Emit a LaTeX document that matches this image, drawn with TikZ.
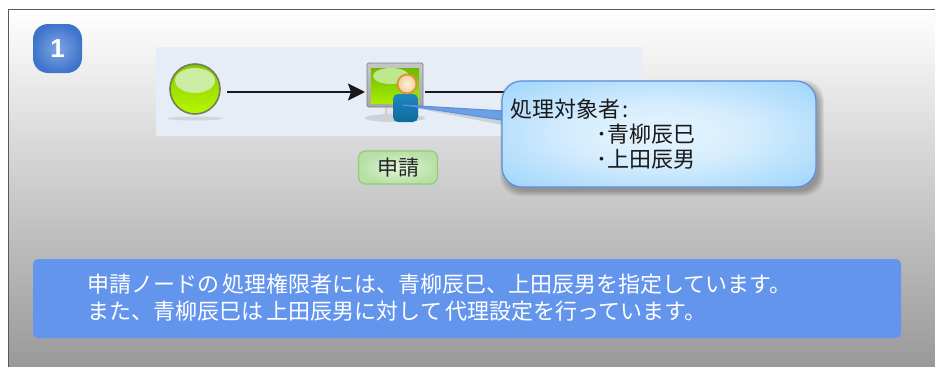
\documentclass[tikz,border=0pt]{standalone}
\usepackage{fontspec}
\setmainfont{Noto Sans CJK JP}
\newfontfamily\latinbold{Liberation Sans}[Scale=1]
\usetikzlibrary{arrows.meta,shapes.geometric}
\definecolor{lanefill}{HTML}{E6EDF7}
\definecolor{panelblue}{HTML}{6495ED}
\definecolor{calloutedge}{HTML}{5B8FDC}
\definecolor{calloutouter}{HTML}{97D2FB}
\definecolor{calloutinner}{HTML}{E6F4FE}
\definecolor{labelgreen}{HTML}{8FCB78}
\definecolor{labelin}{HTML}{E4F4DC}
\definecolor{labelout}{HTML}{B6E0A4}
\definecolor{badgein}{HTML}{7FA6E2}
\definecolor{badgeout}{HTML}{3F74CC}
\definecolor{balltop}{HTML}{86C800}
\definecolor{ballbot}{HTML}{B8F800}
\definecolor{ballhi}{HTML}{CBEDA2}
\definecolor{ballrim}{HTML}{6F7F58}
\definecolor{screentop}{HTML}{6FB800}
\definecolor{screenbot}{HTML}{A6EE00}
\definecolor{screenhi}{HTML}{BFE88C}
\definecolor{persontop}{HTML}{1C88C0}
\definecolor{personbot}{HTML}{0F6A9C}
\definecolor{headrim}{HTML}{D9933A}
\definecolor{headin}{HTML}{FFF4D8}
\pgfdeclareradialshading{calloutshade}{\pgfpoint{0bp}{0bp}}{
  color(0bp)=(calloutinner); color(14bp)=(calloutinner!80!calloutouter);
  color(38bp)=(calloutouter); color(50bp)=(calloutouter)}
\tikzset{
  flow/.style={line width=2pt,black!90},
  holder/.style={inner sep=0pt,outer sep=2pt},
  calloutbox/.style={rounded corners=20pt,draw=calloutedge,line width=1.2pt,shading=calloutshade,
    minimum width=314pt,minimum height=106pt,inner sep=0pt},
  panel/.style={rounded corners=5pt,fill=panelblue,minimum width=868pt,minimum height=79pt,inner sep=0pt},
  steplabel/.style={rounded corners=7pt,draw=labelgreen,line width=1.2pt,inner color=labelin,
    outer color=labelout,minimum width=79pt,minimum height=33pt,inner sep=0pt,text=black!85},
  badge/.style={rounded corners=15pt,minimum size=49pt,inner sep=0pt,inner color=badgein,
    outer color=badgeout,text=white}
}
\begin{document}
\begin{tikzpicture}[x=1pt,y=-1pt]
\useasboundingbox (0,0) rectangle (935,367);
\fill[white] (0,0) rectangle (935,367);
% frame and background
\shade[top color=white,bottom color=black!40] (8.5,9.5) rectangle (935,367);
\draw[black!65,line width=1.2pt] (8.5,367) -- (8.5,9.5) -- (935,9.5);
% lane
\node[fill=lanefill,minimum width=486pt,minimum height=89pt,inner sep=0pt] (lane) at (399,91.5) {};
% badge
\node[badge,font=\latinbold\bfseries\fontsize{26}{26}\selectfont] (badge) at (57.5,48.5) {1};
% invisible holders for the icons
\node[holder,minimum width=60pt,minimum height=56pt] (start) at (195,92) {};
\node[holder,minimum width=56pt,minimum height=56pt] (task) at (395,92) {};
\coordinate (next) at (560,92);
% connectors
\draw[flow,-{Stealth[length=17pt,width=17pt,inset=3pt]}] (start) -- (task);
\draw[flow] (task) -- (next);
% start icon
\fill[black!25,opacity=.5] (195,118.5) ellipse (28 and 2);
\shade[top color=balltop,bottom color=ballbot,draw=ballrim,line width=1.6pt]
  (195,89) circle (25);
\fill[ballhi] (195,80.5) ellipse (20 and 12.5);
% task icon
\fill[black!25,opacity=.6] (395,118) ellipse (30 and 4);
\fill[black!18] (385,106) -- (396,106) -- (396,114) -- (404,117) -- (378,117) -- (385,113) -- cycle;
\fill[white!90!black] (387,106) rectangle (394,114);
\shade[top color=black!22,bottom color=black!35,draw=black!50,line width=.8pt,rounded corners=1.5pt] (367,63) rectangle (423,107);
\shade[top color=screentop,bottom color=screenbot] (371,68) rectangle (419,103);
\fill[screenhi] (391,76) ellipse (18 and 8);
\shade[top color=persontop,bottom color=personbot,rounded corners=5pt] (393,94) rectangle (418,122);
\shade[inner color=headin,outer color=headin!60!headrim,draw=headrim,line width=1.8pt] (407,84) circle (9.5);
% label
\node[steplabel,font=\fontsize{21}{21}\selectfont] (lbl) at (398,167.5) {申請};
% callout shadow and tail
\foreach \g in {0,1,...,5}{
  \fill[black,opacity=.05,rounded corners=20pt] (502+3-\g,81+4-\g) rectangle (816+3+\g,187+4+\g);
}
\fill[black,opacity=.12] (405,106) -- (503,112) -- (503,125) -- cycle;
\coordinate (tailtip) at (403,105);
\draw[fill=calloutedge!75!calloutouter,draw=calloutedge,line width=1pt,line join=round] (tailtip) -- (505,111) -- (505,120.5) -- cycle;
% callout
\node[calloutbox] (callout) at (659,134) {};
\node[anchor=north west,inner sep=0pt,align=left,font=\fontsize{22}{25}\selectfont,text=black!90] (callouttext) at (510,99)
  {処理対象者\hspace{2pt}:\\\hspace*{86pt}･青柳辰巳\\\hspace*{86pt}･上田辰男};
% panel
\node[panel] (panel) at (467,298.5) {};
\node[anchor=west,inner sep=0pt,align=left,text=white,font=\fontsize{22}{27}\selectfont] (paneltext) at (87,298)
  {申請ノードの\hspace{3pt}処理権限者には、青柳辰巳、上田辰男を指定しています。\\また、青柳辰巳は\hspace{3.5pt}上田辰男に対して\hspace{3.5pt}代理設定を行っています。};
\end{tikzpicture}
\end{document}
